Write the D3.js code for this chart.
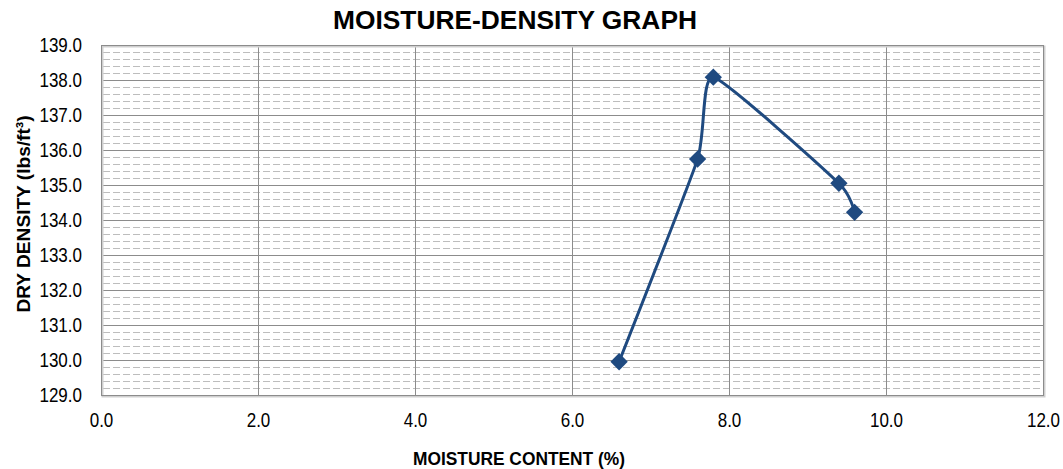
<!DOCTYPE html>
<html>
<head>
<meta charset="utf-8">
<script src="https://cdn.jsdelivr.net/npm/d3@7"></script>
<style>
  body { margin: 0; background: #fff; }
  svg { display: block; font-family: "Liberation Sans", Arial, sans-serif; }
</style>
</head>
<body>
<svg id="svg1" width="1063" height="469"></svg>
<script>
// data
var moisture = [6.6, 7.6, 7.8, 9.4, 9.6];
var density = [129.95, 135.74, 138.08, 135.05, 134.22];
var xTicks = [0, 2, 4, 6, 8, 10, 12];
var yTicks = [129, 130, 131, 132, 133, 134, 135, 136, 137, 138, 139];

var svg = d3.select('#svg1');

var plotLeft = 101, plotRight = 1043, plotTop = 45, plotBottom = 395;

var x = d3.scaleLinear().domain([0, 12]).range([plotLeft, plotRight]);
var y = d3.scaleLinear().domain([129, 139]).range([plotBottom, plotTop]);

// squeeze text horizontally a bit (the original uses a narrow-looking font)
function squeeze(sel, k) {
    sel.each(function() {
        var w = this.getComputedTextLength();
        d3.select(this).attr('textLength', w * k).attr('lengthAdjust', 'spacingAndGlyphs');
    });
}

// minor dashed gridlines every 0.2
var minor = d3.range(129, 139.001, 0.2).filter(function(v) {
    return Math.abs(v - Math.round(v)) > 0.01;
});
svg.append('g').selectAll('line')
    .data(minor)
    .enter().append('line')
    .attr('x1', plotLeft + 2).attr('x2', plotRight - 2)
    .attr('y1', function(d) { return Math.round(y(d)) + 0.5; })
    .attr('y2', function(d) { return Math.round(y(d)) + 0.5; })
    .attr('stroke', '#bdbdbd')
    .attr('stroke-width', 1)
    .attr('stroke-dasharray', '7,3');

// major gridlines
svg.append('g').selectAll('line')
    .data(yTicks)
    .enter().append('line')
    .attr('x1', plotLeft).attr('x2', plotRight)
    .attr('y1', function(d) { return Math.round(y(d)) + 0.5; })
    .attr('y2', function(d) { return Math.round(y(d)) + 0.5; })
    .attr('stroke', '#8c8c8c');

svg.append('g').selectAll('line')
    .data(xTicks)
    .enter().append('line')
    .attr('y1', plotTop).attr('y2', plotBottom)
    .attr('x1', function(d) { return Math.round(x(d)) + 0.5; })
    .attr('x2', function(d) { return Math.round(x(d)) + 0.5; })
    .attr('stroke', '#8c8c8c');

// plot border with a light shadow
svg.append('rect')
    .attr('x', plotLeft + 1.5).attr('y', plotTop + 1.5)
    .attr('width', plotRight - plotLeft).attr('height', plotBottom - plotTop)
    .attr('fill', 'none').attr('stroke', '#cfcfcf').attr('stroke-width', 2);
svg.append('rect')
    .attr('x', plotLeft + 0.5).attr('y', plotTop + 0.5)
    .attr('width', plotRight - plotLeft).attr('height', plotBottom - plotTop)
    .attr('fill', 'none').attr('stroke', '#8c8c8c');

// axis labels
var xAxis = d3.axisBottom(x).tickValues(xTicks).tickSize(0).tickPadding(18)
    .tickFormat(d3.format('.1f'));
var gx = svg.append('g').attr('transform', 'translate(0,' + plotBottom + ')').call(xAxis);
gx.select('.domain').remove();
gx.selectAll('text').attr('font-size', 20).attr('fill', '#000')
    .attr('font-family', '"Liberation Sans", Arial, sans-serif');
squeeze(gx.selectAll('text'), 0.85);

var yAxis = d3.axisLeft(y).tickValues(yTicks).tickSize(0).tickPadding(19)
    .tickFormat(d3.format('.1f'));
var gy = svg.append('g').attr('transform', 'translate(' + plotLeft + ',0)').call(yAxis);
gy.select('.domain').remove();
gy.selectAll('text').attr('font-size', 20).attr('fill', '#000')
    .attr('font-family', '"Liberation Sans", Arial, sans-serif');
squeeze(gy.selectAll('text'), 0.85);

// titles
svg.append('text')
    .attr('x', 515).attr('y', 29)
    .attr('text-anchor', 'middle')
    .attr('font-size', 25).attr('font-weight', 'bold')
    .attr('textLength', 364).attr('lengthAdjust', 'spacingAndGlyphs')
    .text('MOISTURE-DENSITY GRAPH');

svg.append('text')
    .attr('x', 519).attr('y', 465)
    .attr('text-anchor', 'middle')
    .attr('font-size', 19).attr('font-weight', 'bold')
    .attr('textLength', 212).attr('lengthAdjust', 'spacingAndGlyphs')
    .text('MOISTURE CONTENT (%)');

svg.append('text')
    .attr('transform', 'translate(30,214) rotate(-90)')
    .attr('text-anchor', 'middle')
    .attr('font-size', 19).attr('font-weight', 'bold')
    .attr('textLength', 197).attr('lengthAdjust', 'spacingAndGlyphs')
    .text('DRY DENSITY (lbs/ft³)');

// smoothed line
var pts = moisture.map(function(m, i) { return [m, density[i]]; });
var line = d3.line()
    .x(function(d) { return x(d[0]); })
    .y(function(d) { return y(d[1]); })
    .curve(d3.curveCardinal.tension(0.5));

svg.append('path')
    .attr('d', line(pts))
    .attr('fill', 'none')
    .attr('stroke', '#1f4a80')
    .attr('stroke-width', 3);

// diamond markers
var diamond = d3.symbol().type(d3.symbolSquare).size(150);
svg.selectAll('.marker')
    .data(pts)
    .enter().append('path')
    .attr('class', 'marker')
    .attr('d', diamond)
    .attr('fill', '#1f4a80')
    .attr('transform', function(d) {
        return 'translate(' + x(d[0]) + ',' + y(d[1]) + ') rotate(45)';
    });
</script>
</body>
</html>
